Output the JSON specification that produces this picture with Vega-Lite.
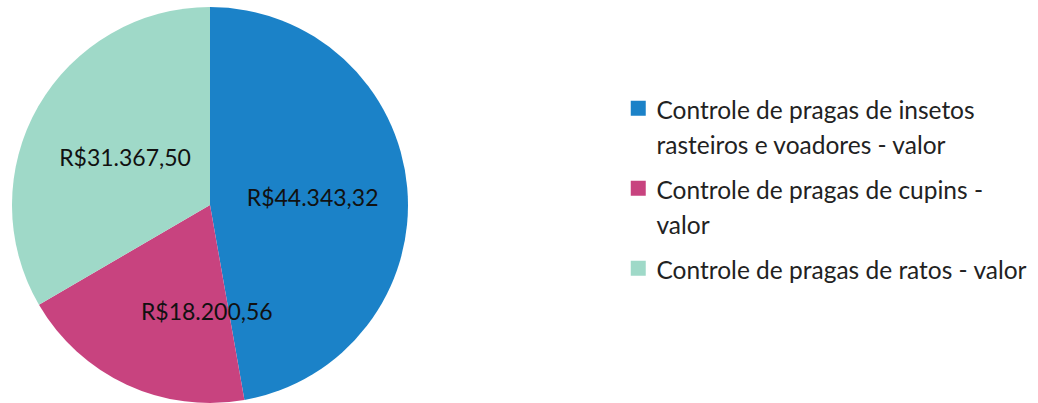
{
  "$schema": "https://vega.github.io/schema/vega-lite/v6.json",
  "width": 420,
  "height": 410,
  "padding": 0,
  "autosize": "pad",
  "background": "white",
  "config": {"view": {"stroke": null}, "font": "Lato", "style": {"guide-label": {"lineHeight": 35, "dy": -8}}},
  "data": {"values": [
    {"categoria": "Controle de pragas de insetos rasteiros e voadores - valor", "valor": 44343.32, "rotulo": "R$44.343,32", "ordem": 1},
    {"categoria": "Controle de pragas de cupins - valor", "valor": 18200.56, "rotulo": "R$18.200,56", "ordem": 2},
    {"categoria": "Controle de pragas de ratos - valor", "valor": 31367.50, "rotulo": "R$31.367,50", "ordem": 3}
  ]},
  "encoding": {
    "theta": {"field": "valor", "type": "quantitative", "stack": true},
    "order": {"field": "ordem", "type": "quantitative"}
  },
  "layer": [
    {
      "mark": {"type": "arc", "outerRadius": 198},
      "encoding": {
        "color": {
          "field": "categoria", "type": "nominal",
          "scale": {
            "domain": ["Controle de pragas de insetos rasteiros e voadores - valor", "Controle de pragas de cupins - valor", "Controle de pragas de ratos - valor"],
            "range": ["#1b82c8", "#c8437f", "#9fd9c8"]
          },
          "legend": {
            "title": null,
            "orient": "none",
            "legendX": 626,
            "legendY": 96,
            "symbolType": "square",
            "symbolSize": 225,
            "symbolStrokeWidth": 0,
            "labelFont": "Lato",
            "labelFontSize": 24.5,
            "labelColor": "#222222",
            "labelLimit": 500,
            "labelBaseline": "top",
            "labelOffset": 6,
            "rowPadding": 17,
            "labelExpr": "datum.label == 'Controle de pragas de insetos rasteiros e voadores - valor' ? ['Controle de pragas de insetos', 'rasteiros e voadores - valor'] : datum.label == 'Controle de pragas de cupins - valor' ? ['Controle de pragas de cupins -', 'valor'] : datum.label"
          }
        }
      }
    },
    {
      "mark": {"type": "text", "radius": 98, "font": "Lato", "fontSize": 23,
        "dx": {"expr": "datum.ordem == 2 ? 38 : datum.ordem == 1 ? 5 : 0"}, "dy": {"expr": "datum.ordem == 2 ? 19 : 3"}},
      "encoding": {
        "text": {"field": "rotulo", "type": "nominal"},
        "color": {"value": "#111111"}
      }
    }
  ]
}
